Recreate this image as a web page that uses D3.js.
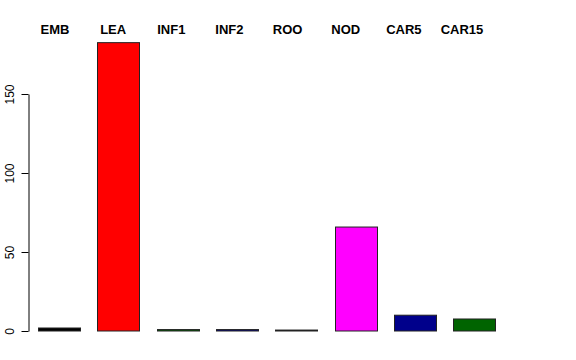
<!DOCTYPE html>
<html>
<head>
<meta charset="utf-8">
<script src="https://cdn.jsdelivr.net/npm/d3@7/dist/d3.min.js"></script>
<style>
  body { margin: 0; background: #fff; }
  text { font-family: "Liberation Sans", Arial, Helvetica, sans-serif; }
</style>
</head>
<body>
<div id="chart"></div>
<script>
(function() {

  var width = 576,
      height = 360

  var categories = ["EMB", "LEA", "INF1", "INF2", "ROO", "NOD", "CAR5", "CAR15"]
  var values = [1.9, 182.5, 0.9, 0.9, 0.6, 65.8, 10, 7.6]
  var colors = ["black", "red", "darkgreen", "darkblue", "black", "magenta", "darkblue", "darkgreen"]
  var yTicks = [0, 50, 100, 150]

  var svg = d3.select("#chart")
    .append("svg")
    .attr("width", width)
    .attr("height", height)

  var xScale = d3.scaleBand().domain(categories).range([38, 495]).paddingInner(0.3).paddingOuter(0)
  var labelScale = d3.scalePoint().domain(categories).range([55, 462])
  var yScale = d3.scaleLinear().domain([0, 150]).range([331, 94])

  // bars
  svg.selectAll("rect")
    .data(values)
    .enter().append("rect")
    .attr("x", function(d, i) { return Math.round(xScale(categories[i])) + 0.5 })
    .attr("width", Math.round(xScale.bandwidth()))
    .attr("y", function(d) { return yScale(d) })
    .attr("height", function(d) { return yScale(0) - yScale(d) })
    .attr("fill", function(d, i) { return colors[i] })
    .attr("stroke", "#222")
    .attr("stroke-width", 1)

  // category labels on top
  svg.selectAll(".cat")
    .data(categories)
    .enter().append("text")
    .attr("class", "cat")
    .attr("x", function(d) { return labelScale(d) })
    .attr("y", 34)
    .attr("text-anchor", "middle")
    .attr("font-weight", "bold")
    .attr("font-size", "13px")
    .text(function(d) { return d })

  // y axis, labels rotated like R
  var yAxis = d3.axisLeft(yScale).tickValues(yTicks).tickSize(7).tickSizeOuter(0)
  var g = svg.append("g")
    .attr("transform", "translate(28.5,0)")
    .call(yAxis)
  g.select(".domain").attr("stroke", "#000")
  g.selectAll(".tick line").attr("stroke", "#000")
  g.selectAll(".tick text")
    .attr("font-size", "12px")
    .attr("fill", "#000")
    .attr("font-family", "Liberation Sans, Arial, sans-serif")
    .attr("text-anchor", "middle")
    .attr("x", 0)
    .attr("y", 0)
    .attr("dy", 0)
    .attr("transform", "translate(-14.5,0) rotate(-90)")
})()
</script>
</body>
</html>
